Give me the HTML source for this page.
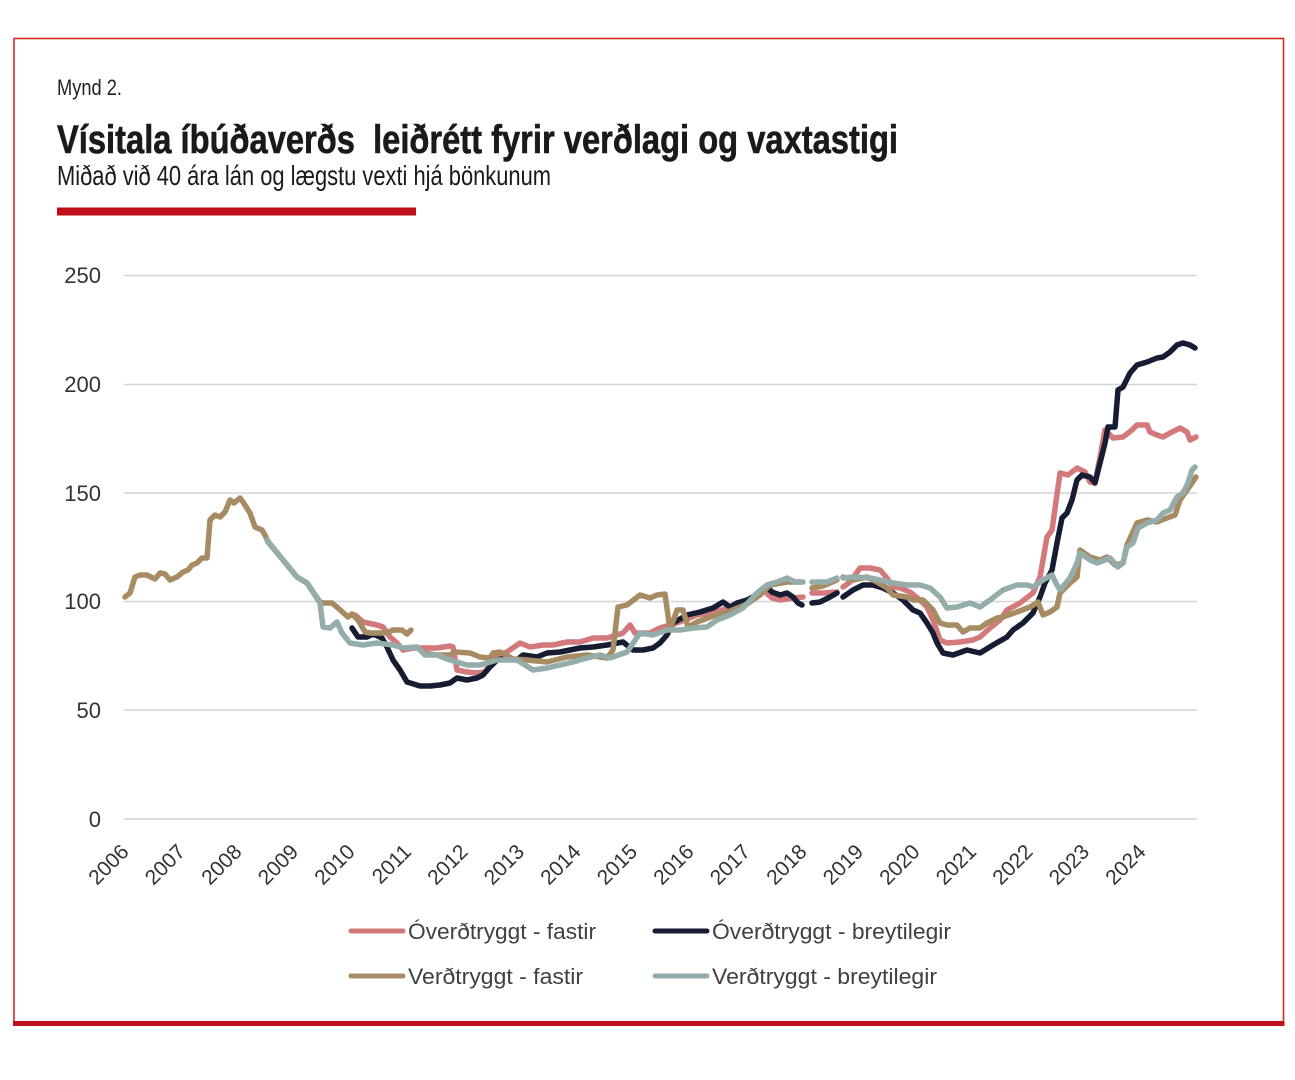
<!DOCTYPE html>
<html>
<head>
<meta charset="utf-8">
<style>
html,body{margin:0;padding:0;background:#fff;}
svg{display:block;}
</style>
</head>
<body>
<svg width="1295" height="1080" viewBox="0 0 1295 1080" xmlns="http://www.w3.org/2000/svg">
<rect x="0" y="0" width="1295" height="1080" fill="#fff"/>
<!-- frame -->
<rect x="14" y="38.5" width="1269.5" height="985" fill="none" stroke="#d02a2a" stroke-width="1.6"/>
<rect x="13" y="1021" width="1271.5" height="5" fill="#c0101c"/>

<!-- header -->
<text x="57" y="95" font-family="Liberation Sans, sans-serif" font-size="22" fill="#222" textLength="65" lengthAdjust="spacingAndGlyphs">Mynd 2.</text>
<text x="57" y="153" font-family="Liberation Sans, sans-serif" font-weight="bold" font-size="40" fill="#1a1a1a" stroke="#1a1a1a" stroke-width="0.6" textLength="841" lengthAdjust="spacingAndGlyphs">Vísitala íbúðaverðs&#160; leiðrétt fyrir verðlagi og vaxtastigi</text>
<text x="57" y="185" font-family="Liberation Sans, sans-serif" font-size="28" fill="#1a1a1a" textLength="494" lengthAdjust="spacingAndGlyphs">Miðað við 40 ára lán og lægstu vexti hjá bönkunum</text>
<rect x="57" y="207.5" width="359" height="8" fill="#c00d1a"/>

<!-- gridlines -->
<g stroke="#d4d4d4" stroke-width="1.6">
<line x1="124" y1="275.5" x2="1197" y2="275.5"/>
<line x1="124" y1="384.5" x2="1197" y2="384.5"/>
<line x1="124" y1="493" x2="1197" y2="493"/>
<line x1="124" y1="601.5" x2="1197" y2="601.5"/>
<line x1="124" y1="710" x2="1197" y2="710"/>
<line x1="124" y1="819" x2="1197" y2="819"/>
</g>

<!-- y labels -->
<g font-family="Liberation Sans, sans-serif" font-size="22" fill="#333" text-anchor="end">
<text x="101" y="283">250</text>
<text x="101" y="392">200</text>
<text x="101" y="501">150</text>
<text x="101" y="609">100</text>
<text x="101" y="718">50</text>
<text x="101" y="827">0</text>
</g>

<!-- x labels -->
<g font-family="Liberation Sans, sans-serif" font-size="21" fill="#333" text-anchor="end">
<text transform="translate(130,853) rotate(-45)">2006</text>
<text transform="translate(186.5,853) rotate(-45)">2007</text>
<text transform="translate(243,853) rotate(-45)">2008</text>
<text transform="translate(299.5,853) rotate(-45)">2009</text>
<text transform="translate(356,853) rotate(-45)">2010</text>
<text transform="translate(412.5,853) rotate(-45)">2011</text>
<text transform="translate(469,853) rotate(-45)">2012</text>
<text transform="translate(525.5,853) rotate(-45)">2013</text>
<text transform="translate(582,853) rotate(-45)">2014</text>
<text transform="translate(638.5,853) rotate(-45)">2015</text>
<text transform="translate(695,853) rotate(-45)">2016</text>
<text transform="translate(751.5,853) rotate(-45)">2017</text>
<text transform="translate(808,853) rotate(-45)">2018</text>
<text transform="translate(864.5,853) rotate(-45)">2019</text>
<text transform="translate(921,853) rotate(-45)">2020</text>
<text transform="translate(977.5,853) rotate(-45)">2021</text>
<text transform="translate(1034,853) rotate(-45)">2022</text>
<text transform="translate(1090.5,853) rotate(-45)">2023</text>
<text transform="translate(1147,853) rotate(-45)">2024</text>
</g>

<!-- series -->
<g fill="none" stroke-width="5.5" stroke-linejoin="round" stroke-linecap="round">
<!-- red: Óverðtryggt - fastir -->
<path stroke="#d3797b" d="M355,615 L363,622 L377,625 L383,627 L390,637 L397,643 L403,650 L413,648 L423,648 L437,648 L450,646 L453,647 L457,670 L467,672 L477,673 L485,672 L490,663 L497,655 L507,652 L520,643 L530,647 L543,645 L553,645 L567,642 L580,642 L593,638 L607,638 L623,633 L630,625 L635,633 L650,633 L660,628 L670,625 L680,622 L697,615 L713,612 L730,608 L747,603 L763,590 L772,598 L780,600 L793,598 L803,597
M812,593 L823,593 L837,592
M843,587 L850,582 L860,568 L870,568 L880,570 L887,578 L893,587 L900,588 L910,592 L920,600 L927,607 L933,620 L940,640 L947,643 L960,642 L973,640 L980,637 L990,628 L1000,620 L1007,610 L1020,603 L1033,593 L1040,577 L1047,537 L1052,530 L1060,473 L1068,475 L1077,468 L1085,472 L1090,482 L1095,483 L1100,457 L1105,430 L1113,438 L1123,437 L1132,430 L1137,425 L1147,425 L1150,432 L1157,435 L1163,437 L1170,433 L1180,428 L1187,432 L1190,440 L1196,437"/>
<!-- black: Óverðtryggt - breytilegir -->
<path stroke="#161d33" d="M352,628 L358,637 L367,637 L373,634 L382,638 L387,647 L393,660 L400,670 L407,682 L420,686 L430,686 L440,685 L450,683 L457,678 L467,680 L477,678 L483,675 L490,667 L497,660 L507,658 L517,660 L523,655 L537,657 L547,653 L560,652 L570,650 L580,648 L593,647 L607,645 L623,642 L633,650 L643,650 L653,648 L660,643 L667,635 L673,623 L687,615 L700,612 L713,608 L723,602 L730,607 L737,603 L747,600 L760,593 L768,588 L772,592 L780,595 L787,593 L793,597 L798,603 L802,605
M812,603 L820,602 L830,597 L837,593
M843,597 L853,590 L863,585 L873,585 L883,588 L893,593 L903,600 L913,610 L920,613 L927,623 L933,633 L937,643 L943,653 L953,655 L967,650 L980,653 L993,645 L1007,637 L1013,630 L1023,623 L1033,613 L1040,597 L1045,583 L1052,570 L1057,543 L1062,518 L1067,513 L1072,500 L1077,480 L1082,475 L1090,477 L1095,483 L1100,463 L1105,443 L1108,427 L1115,427 L1118,390 L1123,387 L1130,373 L1137,365 L1147,362 L1157,358 L1163,357 L1170,352 L1177,345 L1183,343 L1190,345 L1195,348"/>
<!-- brown: Verðtryggt - fastir -->
<path stroke="#a78b63" d="M125,597 L130,593 L135,577 L140,575 L147,575 L155,579 L160,573 L165,574 L170,580 L177,577 L183,572 L188,570 L192,565 L197,563 L202,558 L207,558 L210,520 L215,515 L220,517 L225,512 L230,500 L234,503 L240,498 L243,502 L250,513 L255,527 L262,530 L265,535 L268,542 L283,560 L297,577 L307,583 L320,602 L323,603 L332,603 L338,608 L348,617 L352,614 L358,620 L365,632 L370,633 L377,633 L387,633 L393,630 L402,630 L407,634 L411,630
M423,653 L437,655 L450,655 L455,652 L470,653 L480,657 L490,658 L493,653 L500,652 L513,659 L527,660 L547,662 L567,657 L587,655 L607,658 L613,650 L618,607 L627,605 L640,595 L650,598 L657,595 L665,594 L670,630 L677,610 L683,610 L688,627 L697,622 L713,616 L730,611 L747,604 L760,595 L770,585 L787,582 L800,582
M812,588 L823,586 L837,580
M843,577 L853,580 L867,577 L877,582 L887,588 L893,595 L907,597 L913,600 L923,600 L933,610 L940,623 L947,625 L957,625 L963,632 L970,628 L980,628 L987,623 L997,618 L1003,617 L1017,612 L1030,607 L1038,602 L1043,615 L1050,612 L1057,607 L1060,593 L1070,583 L1077,577 L1080,550 L1090,557 L1100,560 L1107,557 L1115,565 L1123,563 L1127,545 L1137,523 L1147,520 L1157,522 L1167,518 L1175,515 L1180,500 L1187,490 L1192,483 L1196,477"/>
<!-- teal: Verðtryggt - breytilegir -->
<path stroke="#94adaa" d="M267,540 L283,560 L297,577 L307,583 L320,603 L323,627 L330,628 L337,622 L342,633 L350,643 L363,645 L377,643 L393,645 L403,648 L417,647 L425,655 L437,655 L450,660 L467,665 L480,665 L497,660 L517,660 L533,670 L547,668 L560,665 L573,662 L587,658 L600,655 L610,658 L627,652 L640,633 L653,635 L667,630 L680,630 L693,628 L707,627 L717,620 L730,615 L743,608 L757,593 L767,585 L777,582 L787,578 L795,582 L803,582
M812,582 L827,582 L837,578
M843,578 L853,577 L870,578 L880,580 L893,583 L907,585 L920,585 L930,588 L940,597 L947,608 L957,607 L970,603 L980,607 L990,600 L1003,590 L1017,585 L1027,585 L1033,587 L1043,580 L1052,575 L1057,585 L1060,590 L1070,578 L1077,563 L1080,553 L1090,560 L1097,563 L1105,560 L1110,558 L1118,567 L1123,563 L1127,547 L1133,543 L1138,528 L1147,523 L1157,520 L1163,513 L1170,510 L1177,497 L1183,493 L1188,483 L1192,470 L1195,467"/>
</g>

<!-- legend -->
<g stroke-width="5" stroke-linecap="round">
<line x1="351" y1="931" x2="403" y2="931" stroke="#d3797b"/>
<line x1="655" y1="931" x2="707" y2="931" stroke="#161d33"/>
<line x1="351" y1="976" x2="403" y2="976" stroke="#a78b63"/>
<line x1="655" y1="976" x2="707" y2="976" stroke="#94adaa"/>
</g>
<g font-family="Liberation Sans, sans-serif" font-size="22" fill="#404040">
<text x="408" y="939" textLength="188" lengthAdjust="spacingAndGlyphs">Óverðtryggt - fastir</text>
<text x="712" y="939" textLength="239" lengthAdjust="spacingAndGlyphs">Óverðtryggt - breytilegir</text>
<text x="408" y="984" textLength="175" lengthAdjust="spacingAndGlyphs">Verðtryggt - fastir</text>
<text x="712" y="984" textLength="225" lengthAdjust="spacingAndGlyphs">Verðtryggt - breytilegir</text>
</g>
</svg>
</body>
</html>
